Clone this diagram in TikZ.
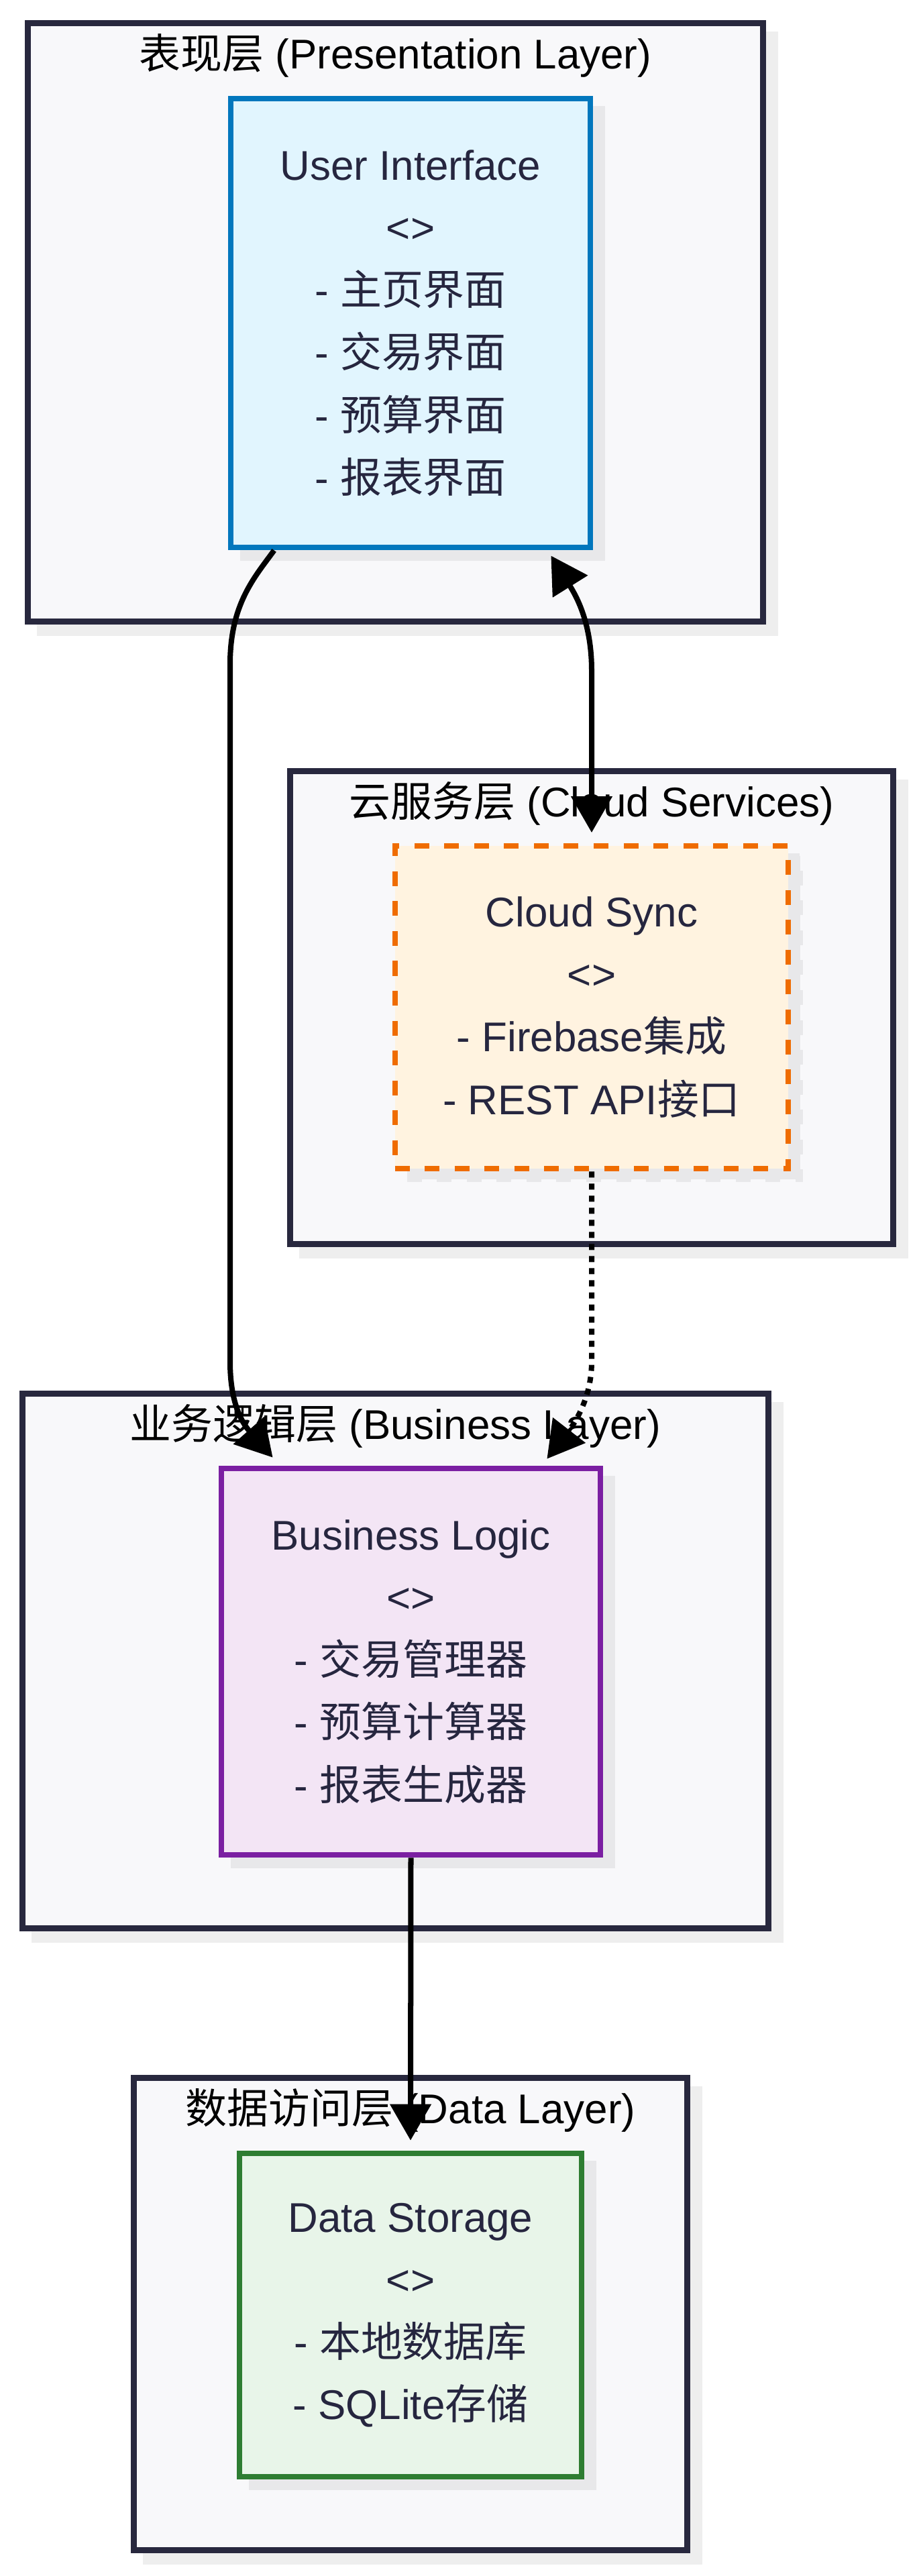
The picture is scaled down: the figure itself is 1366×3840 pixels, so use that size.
\documentclass[tikz,border=0pt]{standalone}
\usepackage{fontspec}
\usepackage{tikz}
\usepackage{xcolor}
\usetikzlibrary{arrows.meta,calc,shadows}
\setmainfont{Liberation Sans}
\newfontfamily\cjk{Noto Sans CJK SC}
\newcommand{\zh}[1]{{\cjk #1}}

\definecolor{layerfill}{HTML}{F8F8FA}
\definecolor{layerline}{HTML}{28283E}
\definecolor{textnavy}{HTML}{26263F}
\definecolor{shadowout}{HTML}{EEEEEE}
\definecolor{shadowin}{HTML}{E8E8EA}
\definecolor{uifill}{HTML}{E1F5FE}
\definecolor{uiline}{HTML}{0277BD}
\definecolor{syncfill}{HTML}{FFF3E0}
\definecolor{syncline}{HTML}{EF6C00}
\definecolor{logicfill}{HTML}{F3E5F5}
\definecolor{logicline}{HTML}{7B1FA2}
\definecolor{storefill}{HTML}{E8F5E9}
\definecolor{storeline}{HTML}{2E7D32}

\begin{document}
\begin{tikzpicture}[x=0.01cm, y=-0.01cm,
        font=\fontsize{17.6pt}{26.5pt}\selectfont,
        >={Triangle[length=0.54cm, width=0.6cm]},
        layerbox/.style={rectangle, draw=layerline, fill=layerfill, line width=0.09cm,
            drop shadow={shadow xshift=0.18cm, shadow yshift=-0.17cm, opacity=1, fill=shadowout, draw=shadowout}},
        partbox/.style={rectangle, line width=0.085cm, align=center, text=textnavy,
            drop shadow={shadow xshift=0.18cm, shadow yshift=-0.155cm, opacity=1, fill=shadowin, draw=shadowin}},
        layertitle/.style={anchor=base, text=black},
        link/.style={line width=0.08cm}]
        \useasboundingbox (0,0) rectangle (1366,3840);

        % layers
        \node (pres) at (589.5, 480.5) [layerbox, minimum width=10.95cm, minimum height=8.91cm] {};
        \node (t1) at ($(pres.north)+(0,72)$) [layertitle] {\zh{表现层} (Presentation Layer)};
        \node (cloud) at (882, 1502) [layerbox, minimum width=8.98cm, minimum height=7.04cm] {};
        \node (t2) at ($(cloud.north)+(0,72)$) [layertitle] {\zh{云服务层} (Cloud Services)};
        \node (biz) at (589.5, 2476) [layerbox, minimum width=11.11cm, minimum height=7.96cm] {};
        \node (t3) at ($(biz.north)+(0,72)$) [layertitle] {\zh{业务逻辑层} (Business Layer)};
        \node (data) at (612, 3449.5) [layerbox, minimum width=8.24cm, minimum height=7.03cm] {};
        \node (t4) at ($(data.north)+(0,72)$) [layertitle] {\zh{数据访问层} (Data Layer)};

        % components
        \node (ui) at (612, 481.5) [partbox, draw=uiline, fill=uifill, minimum width=5.36cm, minimum height=6.69cm]
            {User Interface\\<>\\- \zh{主页界面}\\- \zh{交易界面}\\- \zh{预算界面}\\- \zh{报表界面}};
        \node (sync) at (882, 1501.5) [partbox, draw=syncline, fill=syncfill, dash pattern=on 0.22cm off 0.225cm,
            minimum width=5.86cm, minimum height=4.81cm]
            {Cloud Sync\\<>\\- Firebase\zh{集成}\\- REST API\zh{接口}};
        \node (logic) at (612.5, 2477) [partbox, draw=logicline, fill=logicfill, minimum width=5.65cm, minimum height=5.76cm]
            {Business Logic\\<>\\- \zh{交易管理器}\\- \zh{预算计算器}\\- \zh{报表生成器}};
        \node (store) at (612, 3451) [partbox, draw=storeline, fill=storefill, minimum width=5.1cm, minimum height=4.82cm]
            {Data Storage\\<>\\- \zh{本地数据库}\\- SQLite\zh{存储}};

        \draw[link, ->] ($(ui.south west)+(69,0)$) .. controls (380,860) and (343,900) .. (343,990)
            -- (343,2030) .. controls (343,2090) and (360,2120) .. ($(logic.north west)+(81,-12)$);
        \draw[link, <->] ($(ui.south east)+(-63,8)$) .. controls (860,890) and (882,930) .. (882,1000)
            -- ($(sync.north)+(0,-15.5)$);
        \draw[link, ->, dash pattern=on 0.09cm off 0.09cm] (sync.south) -- (882,2030)
            .. controls (882,2090) and (850,2130) .. ($(logic.north east)+(-84,-10)$);
        \draw[link, ->] (logic.south) -- ($(store.north)+(0,-15)$);
    \end{tikzpicture}
\end{document}
